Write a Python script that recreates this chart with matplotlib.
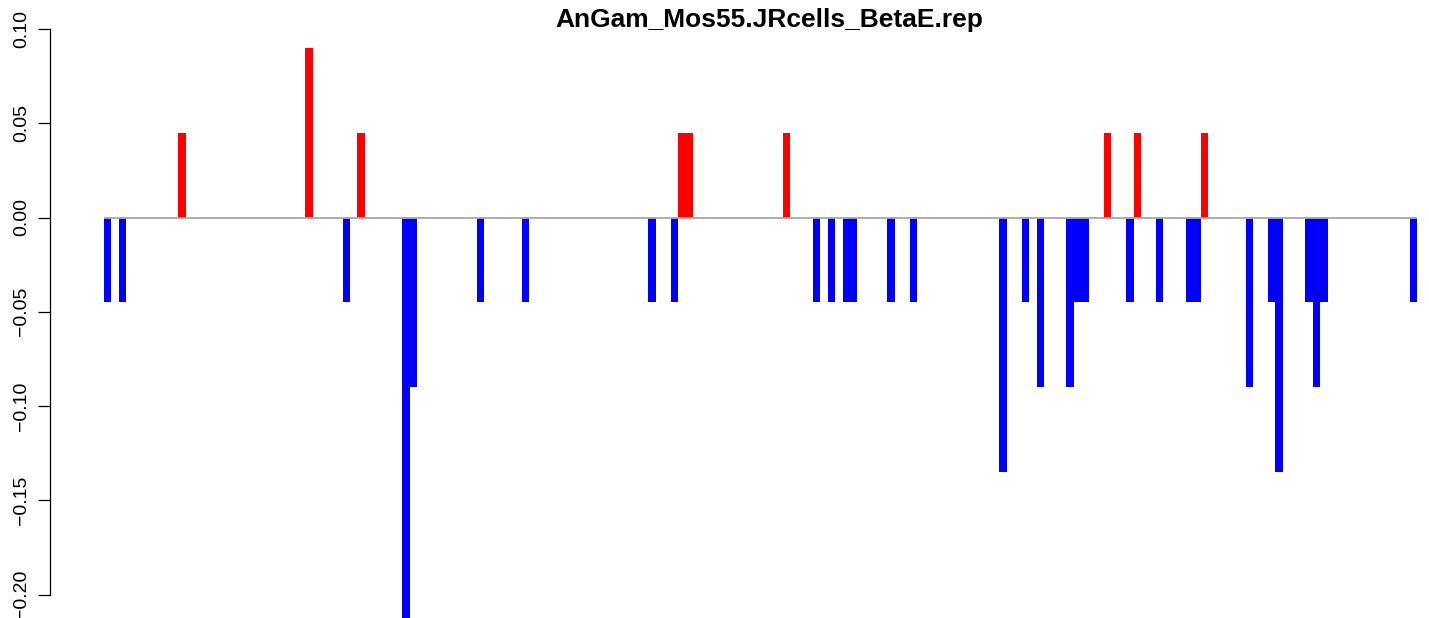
import matplotlib
matplotlib.use("Agg")
import matplotlib.pyplot as plt
import numpy as np

plt.rcParams['font.family'] = ['Liberation Sans', 'DejaVu Sans']
plt.rcParams['axes.unicode_minus'] = True

title = "AnGam_Mos55.JRcells_BetaE.rep"

# one value per bar (176 bars, consecutive, no spacing)
values = [
    -0.045, 0, -0.045, 0, 0, 0, 0, 0, 0, 0, 0.045, 0, 0, 0, 0, 0,
    0, 0, 0, 0, 0, 0, 0, 0, 0, 0, 0, 0.09, 0, 0, 0, 0,
    -0.045, 0, 0.045, 0, 0, 0, 0, 0, -0.225, -0.09, 0, 0, 0, 0, 0, 0,
    0, 0, -0.045, 0, 0, 0, 0, 0, -0.045, 0, 0, 0, 0, 0, 0, 0,
    0, 0, 0, 0, 0, 0, 0, 0, 0, -0.045, 0, 0, -0.045, 0.045, 0.045, 0,
    0, 0, 0, 0, 0, 0, 0, 0, 0, 0, 0, 0.045, 0, 0, 0, -0.045,
    0, -0.045, 0, -0.045, -0.045, 0, 0, 0, 0, -0.045, 0, 0, -0.045, 0, 0, 0,
    0, 0, 0, 0, 0, 0, 0, 0, -0.135, 0, 0, -0.045, 0, -0.09, 0, 0,
    0, -0.09, -0.045, -0.045, 0, 0, 0.045, 0, 0, -0.045, 0.045, 0, 0, -0.045, 0, 0,
    0, -0.045, -0.045, 0.045, 0, 0, 0, 0, 0, -0.09, 0, 0, -0.045, -0.135, 0, 0,
    0, -0.045, -0.09, -0.045, 0, 0, 0, 0, 0, 0, 0, 0, 0, 0, 0, -0.045,
]
yticks = [-0.20, -0.15, -0.10, -0.05, 0.00, 0.05, 0.10]
ytick_labels = ["\u22120.20", "\u22120.15", "\u22120.10", "\u22120.05", "0.00", "0.05", "0.10"]

W, H = 1429, 618
fig = plt.figure(figsize=(W / 100, H / 100), dpi=100)

ax_left_px = 50
ax = fig.add_axes([ax_left_px / W, 0, 1 - ax_left_px / W, 1])

n = len(values)
idx = np.arange(n)
vals = np.array(values)
colors = ['#FF0000' if v > 0 else '#0000FF' for v in vals]
ax.bar(idx, vals, width=1.0, align='edge', color=colors, linewidth=0, zorder=2)
ax.hlines(0, 0, n, colors='#A8A8A8', linewidth=1.3, zorder=3)

# pixel mapping: first bar left edge ~103.7px, pitch ~7.463px
x0_px, pitch = 103.7, 7.463
ax.set_xlim((ax_left_px - x0_px) / pitch, (W - x0_px) / pitch)
zero_px, px_per_unit = 217.5, 1886.0
ax.set_ylim(-(H - zero_px) / px_per_unit, zero_px / px_per_unit)

for s in ['top', 'right', 'bottom']:
    ax.spines[s].set_visible(False)
ax.spines['left'].set_bounds(-0.20, 0.10)
ax.spines['left'].set_linewidth(0.9)
ax.set_xticks([])
ax.set_yticks(yticks)
ax.set_yticklabels(ytick_labels)
ax.tick_params(axis='y', length=8.6, width=0.9, pad=5.5, labelsize=14)
for lab in ax.get_yticklabels():
    lab.set_rotation(90)
    lab.set_va('center')

fig.text(769 / W, 1 - 27 / H, title, ha='center', va='baseline',
         fontsize=19, fontweight='bold')

fig.savefig("out.png", dpi=100)
